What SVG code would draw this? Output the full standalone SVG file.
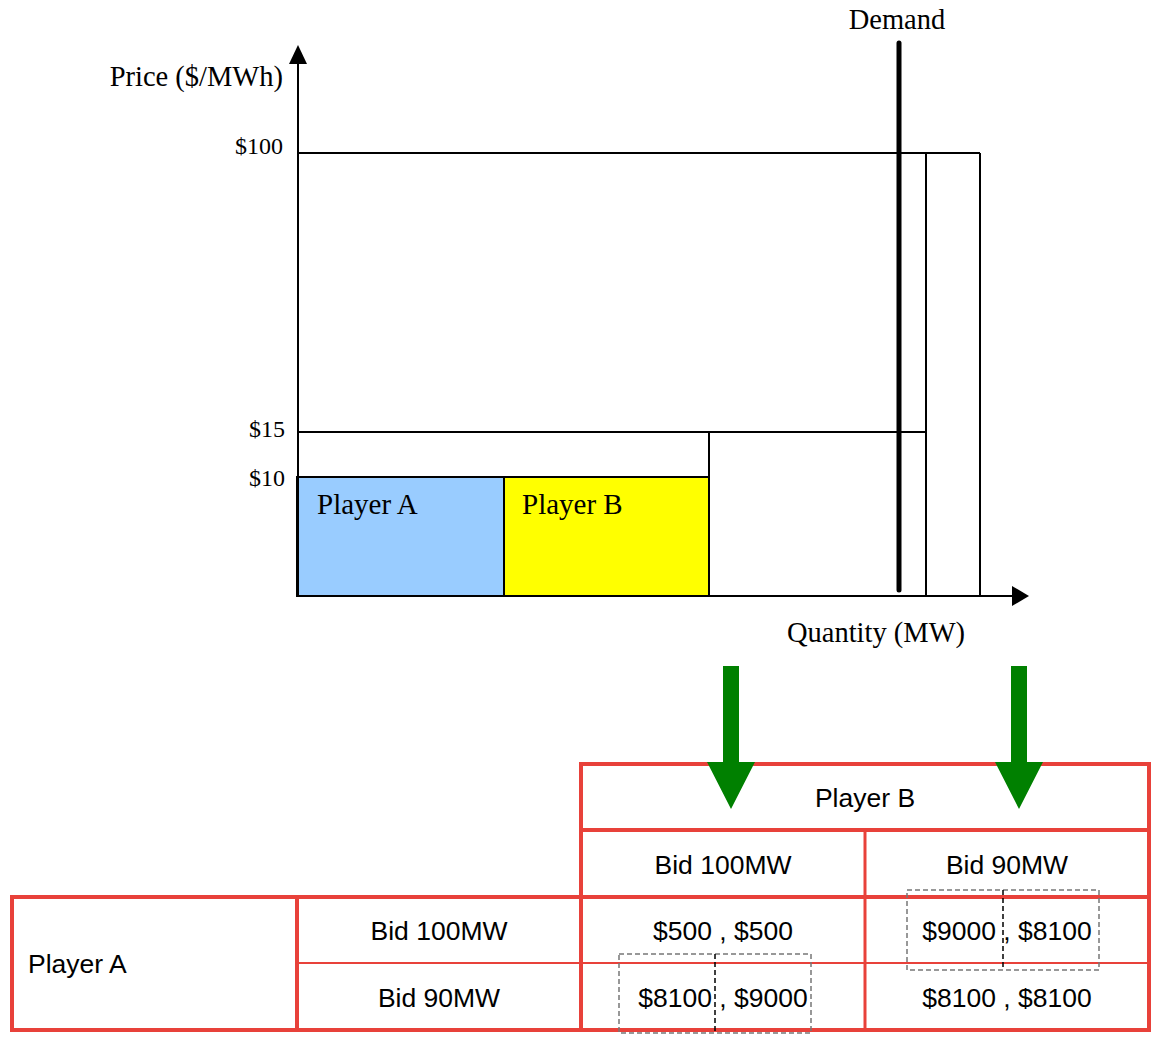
<svg xmlns="http://www.w3.org/2000/svg" width="1153" height="1037" viewBox="0 0 1153 1037">
<style>
.serif{font-family:"Liberation Serif","Times New Roman",serif;fill:#000}
.sans{font-family:"Liberation Sans",Arial,sans-serif;fill:#000;font-size:26.5px}
.ln{stroke:#000;stroke-width:2;fill:none}
.red{stroke:#E8413A;fill:none}
.dash{stroke:#777;stroke-width:1.5;stroke-dasharray:5,3;fill:none}
.arrow{fill:#008000}
</style>
<rect width="1153" height="1037" fill="#fff"/>
<g id="chart">
  <rect x="297" y="477" width="207" height="119" fill="#99CCFF" stroke="#000" stroke-width="2"/>
  <rect x="504" y="477" width="205" height="119" fill="#FFFF00" stroke="#000" stroke-width="2"/>
  <line class="ln" x1="297" y1="153" x2="980" y2="153"/>
  <line class="ln" x1="980" y1="153" x2="980" y2="596"/>
  <line class="ln" x1="926" y1="153" x2="926" y2="596"/>
  <line class="ln" x1="297" y1="432" x2="926" y2="432"/>
  <line class="ln" x1="709" y1="432" x2="709" y2="596"/>
  <line class="ln" x1="297" y1="477" x2="709" y2="477"/>
  <line class="ln" x1="297" y1="596" x2="1013" y2="596"/>
  <line class="ln" x1="298" y1="596" x2="298" y2="62"/>
  <polygon points="1029,596 1012,586 1012,606" fill="#000"/>
  <polygon points="298,45 289,64 307,64" fill="#000"/>
  <line x1="899" y1="43" x2="899" y2="590" stroke="#000" stroke-width="5" stroke-linecap="round"/>
  <text class="serif" x="897" y="29" font-size="28.5" text-anchor="middle">Demand</text>
  <text class="serif" x="283" y="86" font-size="28.5" text-anchor="end">Price ($/MWh)</text>
  <text class="serif" x="283" y="154" font-size="24" text-anchor="end">$100</text>
  <text class="serif" x="285" y="437" font-size="24" text-anchor="end">$15</text>
  <text class="serif" x="285" y="486" font-size="24" text-anchor="end">$10</text>
  <text class="serif" x="317" y="514" font-size="29">Player A</text>
  <text class="serif" x="522" y="514" font-size="29">Player B</text>
  <text class="serif" x="876" y="642" font-size="28.5" text-anchor="middle">Quantity (MW)</text>
</g>
<g id="table-b">
  <rect class="red" x="581" y="764" width="568" height="133" stroke-width="4"/>
  <line class="red" x1="581" y1="830" x2="1149" y2="830" stroke-width="4"/>
  <line class="red" x1="865" y1="830" x2="865" y2="1030" stroke-width="3"/>
  <text class="sans" x="865" y="807" text-anchor="middle">Player B</text>
  <text class="sans" x="723" y="874" text-anchor="middle">Bid 100MW</text>
  <text class="sans" x="1007" y="874" text-anchor="middle">Bid 90MW</text>
</g>
<g id="table-a">
  <rect class="red" x="12" y="897" width="1137" height="133" stroke-width="4"/>
  <line class="red" x1="297" y1="963" x2="1149" y2="963" stroke-width="2"/>
  <line class="red" x1="297" y1="897" x2="297" y2="1030" stroke-width="4"/>
  <line class="red" x1="581" y1="897" x2="581" y2="1030" stroke-width="4"/>
  <text class="sans" x="28" y="973">Player A</text>
  <text class="sans" x="439" y="940" text-anchor="middle">Bid 100MW</text>
  <text class="sans" x="439" y="1007" text-anchor="middle">Bid 90MW</text>
  <text class="sans" x="723" y="940" text-anchor="middle">$500 , $500</text>
  <text class="sans" x="1007" y="940" text-anchor="middle">$9000 , $8100</text>
  <text class="sans" x="723" y="1007" text-anchor="middle">$8100 , $9000</text>
  <text class="sans" x="1007" y="1007" text-anchor="middle">$8100 , $8100</text>
</g>
<g id="highlights">
  <rect class="dash" x="619" y="954" width="192" height="79"/>
  <line x1="715" y1="954" x2="715" y2="1033" stroke="#000" stroke-width="1.5" stroke-dasharray="5,3"/>
  <rect class="dash" x="907" y="890" width="192" height="80"/>
  <line x1="1003" y1="890" x2="1003" y2="970" stroke="#000" stroke-width="1.5" stroke-dasharray="5,3"/>
</g>
<g id="connectors">
  <polygon class="arrow" points="723,666 739,666 739,762 755,762 731,809 707,762 723,762"/>
  <polygon class="arrow" points="1011,666 1027,666 1027,762 1043,762 1019,809 995,762 1011,762"/>
</g>
</svg>
